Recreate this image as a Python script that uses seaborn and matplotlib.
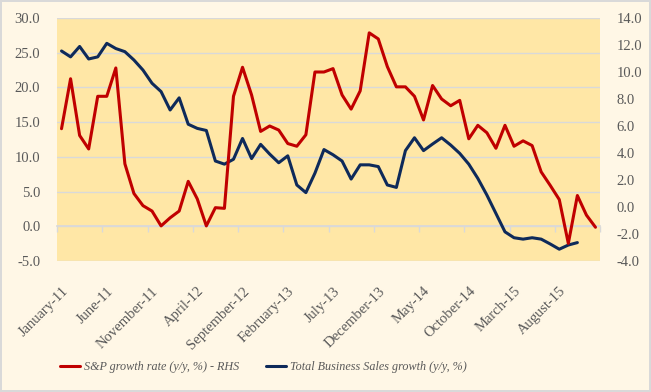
import numpy as np
import pandas as pd
import matplotlib
matplotlib.use("Agg")
import matplotlib.pyplot as plt
import seaborn as sns

months = pd.date_range("2011-01-01", periods=60, freq="MS")
month_labels = [d.strftime("%B-%y") for d in months]

# S&P growth rate (y/y, %) - RHS
sp_growth = [5.8, 9.5, 5.3, 4.3, 8.2, 8.2, 10.3, 3.2, 1.0, 0.1,
             -0.3, -1.4, -0.8, -0.3, 1.9, 0.6, -1.4, -0.05, -0.1, 8.2,
             10.35, 8.3, 5.6, 6.0, 5.7, 4.7, 4.5, 5.35, 10.0, 10.0,
             10.25, 8.3, 7.25, 8.6, 12.9, 12.45, 10.4, 8.9, 8.9, 8.2,
             6.45, 9.0, 8.0, 7.5, 7.9, 5.05, 6.05, 5.5, 4.35, 6.05,
             4.5, 4.9, 4.55, 2.6, 1.6, 0.55, -2.7, 0.85, -0.6, -1.5]

# Total Business Sales growth (y/y, %) - LHS (ends October 2015)
sales_growth = [25.25, 24.4, 25.9, 24.1, 24.4, 26.35, 25.6, 25.15, 23.95, 22.5,
                20.6, 19.4, 16.75, 18.5, 14.7, 14.1, 13.8, 9.4, 8.95, 9.65,
                12.65, 9.75, 11.8, 10.4, 9.15, 10.15, 5.95, 4.85, 7.65, 11.05,
                10.3, 9.4, 6.8, 8.85, 8.85, 8.6, 5.95, 5.6, 10.9, 12.75,
                10.9, 11.85, 12.75, 11.7, 10.5, 8.95, 6.9, 4.5, 1.85, -0.8,
                -1.65, -1.85, -1.65, -1.85, -2.55, -3.3, -2.7, -2.35]

label_step = 5

df_sp = pd.DataFrame({"idx": np.arange(len(sp_growth)), "value": sp_growth})
df_sales = pd.DataFrame({"idx": np.arange(len(sales_growth)), "value": sales_growth})

sns.set_theme(style="white")
plt.rcParams["font.family"] = ["Liberation Serif", "DejaVu Serif"]

RED = "#C00000"
NAVY = "#0E2A5A"
GRAY = "#595959"
GRID = "#D9D9D9"

fig = plt.figure(figsize=(6.51, 3.92), dpi=100)
fig.patch.set_facecolor("#FFF7E6")
fig.patch.set_edgecolor(GRID)
fig.patch.set_linewidth(1.5)

ax = fig.add_axes([57/651, 1-261/392, (600-57)/651, (261-18)/392])
ax.set_facecolor("#FFE7A6")

sns.lineplot(data=df_sales, x="idx", y="value", ax=ax, color=NAVY, linewidth=2.2,
             label="Total Business Sales growth (y/y, %)", legend=False)
ax2 = ax.twinx()
sns.lineplot(data=df_sp, x="idx", y="value", ax=ax2, color=RED, linewidth=2.2,
             label="S&P growth rate (y/y, %) - RHS", legend=False)

n = len(sp_growth)
ax.set_xlim(-0.5, n - 0.5)
ax.set_ylim(-5, 30)
ax.set_yticks(np.arange(-5, 31, 5))
ax.set_yticklabels([f"{v:.1f}" for v in np.arange(-5, 31, 5)])
ax2.set_ylim(-4, 14)
ax2.set_yticks(np.arange(-4, 15, 2))
ax2.set_yticklabels([f"{v:.1f}" for v in np.arange(-4, 15, 2)])

for a in (ax, ax2):
    for s in a.spines.values():
        s.set_visible(False)
    a.set_xlabel("")
    a.set_ylabel("")

ax.yaxis.grid(True, color=GRID, linewidth=1)
ax.set_axisbelow(True)
ax.tick_params(axis="y", length=0, pad=12, labelsize=10.5, labelcolor=GRAY)
ax2.tick_params(axis="y", length=0, pad=12, labelsize=10.5, labelcolor=GRAY)

pos = np.arange(0, n, label_step)
ax.set_xticks(pos)
ax.set_xticklabels([month_labels[i] for i in pos], rotation=45, ha="right",
                   rotation_mode="anchor")
ax.tick_params(axis="x", length=0, pad=17, labelsize=10.5, labelcolor=GRAY)

# category-boundary tick marks on the zero line
sec = ax.secondary_xaxis(5/35)
sec.set_xticks(np.arange(-0.5, n, label_step))
sec.set_xticklabels([])
sec.tick_params(axis="x", length=4, color=GRID, width=1)
sec.spines["bottom"].set_color(GRID)

h1, l1 = ax2.get_legend_handles_labels()
h2, l2 = ax.get_legend_handles_labels()
fig.legend(h1 + h2, l1 + l2, loc="center", bbox_to_anchor=(0.405, 0.064), ncol=2,
           frameon=False, handlelength=1.6, handletextpad=0.4, columnspacing=2.2,
           prop={"family": ["Liberation Serif"], "style": "italic", "size": 8.7},
           labelcolor=GRAY)

fig.savefig("out.png", dpi=100, facecolor=fig.get_facecolor(), edgecolor=fig.get_edgecolor())
